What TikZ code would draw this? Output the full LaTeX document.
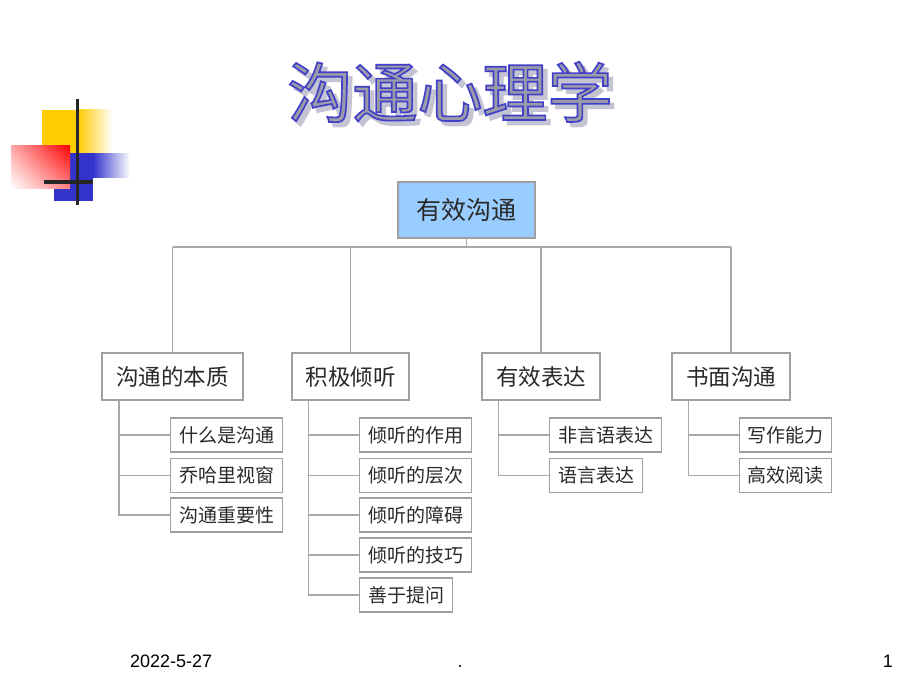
\documentclass[tikz,border=0pt]{standalone}
\usepackage{fontspec}
\usetikzlibrary{shadings}
\newfontfamily\cjk{Noto Sans CJK SC}
\newfontfamily\cjkol[FakeBold=2.6]{Noto Sans CJK SC}
\newfontfamily\lsans{Liberation Sans}
\definecolor{yel}{HTML}{FFCC00}
\definecolor{blu}{HTML}{3333CC}
\definecolor{rootfill}{HTML}{99CCFF}
\definecolor{boxgray}{HTML}{A0A0A0}
\definecolor{linegray}{HTML}{A8A8A8}
\definecolor{txt}{HTML}{2A2A2A}
\definecolor{tgray}{HTML}{9C9CA8}
\definecolor{tblue}{HTML}{4040C8}
\definecolor{tshadow}{HTML}{C4C4D2}
\begin{document}
\begin{tikzpicture}[x=1pt,y=-1pt,
  rootbox/.style={draw=boxgray, line width=1.3pt, fill=rootfill, inner sep=0pt,
    minimum width=137, minimum height=56, text=txt, font=\cjk\fontsize{25}{27}\selectfont},
  midbox/.style={draw=boxgray, line width=1.3pt, fill=white, inner sep=0pt,
    minimum height=47, text=txt, font=\cjk\fontsize{22.5}{24}\selectfont},
  leafbox/.style={draw=boxgray, line width=1.1pt, fill=white, inner sep=0pt,
    minimum height=34, anchor=west, text=txt, font=\cjk\fontsize{19}{21}\selectfont},
  conn/.style={draw=linegray, line width=1.6pt},
  titlefont/.style={font=\cjkol\fontsize{65}{67}\selectfont, inner sep=0pt},
  foot/.style={font=\lsans\fontsize{18}{20}\selectfont, inner sep=0pt}]
\useasboundingbox[fill=white] (0,0) rectangle (920,690);

% decoration
\fill[yel] (42,110) rectangle (78,153);
\shade[left color=yel, right color=white] (78,110) rectangle (112,153);
\fill[blu] (54,153) rectangle (93,201);
\shade[left color=blu, right color=white] (93,153) rectangle (130,177);
\shade[upper right=red, lower left=white, upper left=red!35, lower right=red!50] (11,145) rectangle (70,188);
\draw[line width=3pt, black!85] (77.5,99) -- (77.5,205);
\draw[line width=4pt, black!85] (44,181.5) -- (93,181.5);

% title
\node[titlefont, text=tshadow] (tsh) at (454.5,96.5) {沟通心理学};
\node[titlefont, text=tgray] (title) at (450,92) {\special{pdf:literal direct 0.251 0.251 0.784 RG}沟通心理学};

% root
\node[rootbox] (root) at (466.5,210) {有效沟通};

% level 2
\node[midbox, minimum width=141] (n1) at (172.5,376.5) {沟通的本质};
\node[midbox, minimum width=117] (n2) at (350.5,376.5) {积极倾听};
\node[midbox, minimum width=118] (n3) at (541,376.5) {有效表达};
\node[midbox, minimum width=118] (n4) at (731,376.5) {书面沟通};

\coordinate (bus) at (466.5,247);
\draw[conn] (root.south) -- (bus);
\draw[conn] (n1.north|-bus) -- (n4.north|-bus);
\foreach \n in {n1,n2,n3,n4}
  \draw[conn] (\n.north|-bus) -- (\n.north);

% level 3
\node[leafbox, minimum width=112] (a1) at (170,435) {什么是沟通};
\node[leafbox, minimum width=112] (a2) at (170,475.5) {乔哈里视窗};
\node[leafbox, minimum width=112] (a3) at (170,515) {沟通重要性};

\node[leafbox, minimum width=112] (b1) at (359,435) {倾听的作用};
\node[leafbox, minimum width=112] (b2) at (359,475.5) {倾听的层次};
\node[leafbox, minimum width=112] (b3) at (359,515) {倾听的障碍};
\node[leafbox, minimum width=112] (b4) at (359,555) {倾听的技巧};
\node[leafbox, minimum width=93] (b5) at (359,595) {善于提问};

\node[leafbox, minimum width=112] (c1) at (549,435) {非言语表达};
\node[leafbox, minimum width=93] (c2) at (549,475.5) {语言表达};

\node[leafbox, minimum width=92] (d1) at (739,435) {写作能力};
\node[leafbox, minimum width=92] (d2) at (739,475.5) {高效阅读};

\coordinate (t1) at ([xshift=17.5]n1.south west);
\coordinate (t2) at ([xshift=17]n2.south west);
\coordinate (t3) at ([xshift=17]n3.south west);
\coordinate (t4) at ([xshift=17]n4.south west);
\foreach \c in {a1,a2,a3} \draw[conn] (t1) |- (\c.west);
\foreach \c in {b1,b2,b3,b4,b5} \draw[conn] (t2) |- (\c.west);
\foreach \c in {c1,c2} \draw[conn] (t3) |- (\c.west);
\foreach \c in {d1,d2} \draw[conn] (t4) |- (\c.west);

% footer
\node[foot, anchor=base west] (date) at (130,667) {2022-5-27};
\node[foot, anchor=base] (dot) at (460,667) {.};
\node[foot, anchor=base east] (page) at (893,667) {1};
\end{tikzpicture}
\end{document}
